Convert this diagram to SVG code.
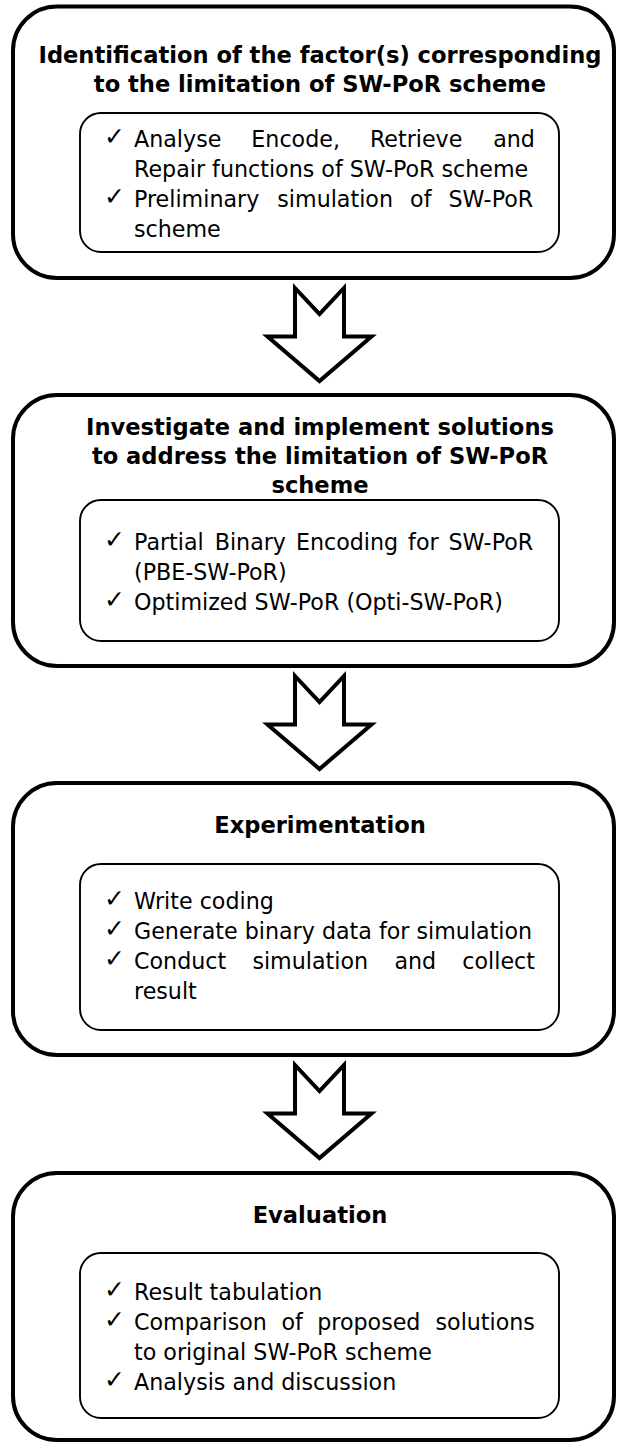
<svg xmlns="http://www.w3.org/2000/svg" width="617" height="1442" viewBox="0 0 617 1442">
  <style>
    .outer { fill: #ffffff; stroke: #000000; stroke-width: 4; }
    .inner { fill: #ffffff; stroke: #000000; stroke-width: 1.9; }
    .title { font-family: "DejaVu Sans", Verdana, sans-serif; font-weight: bold; font-size: 22.6px; fill: #000000; text-anchor: middle; }
    .body { font-family: "DejaVu Sans", Verdana, sans-serif; font-size: 22.2px; fill: #000000; }
    .tick { font-family: "DejaVu Sans", sans-serif; font-size: 25px; fill: #000000; }
    .arrow { fill: #ffffff; stroke: #000000; stroke-width: 4; stroke-linejoin: miter; stroke-miterlimit: 10; }
  </style>
  <defs>
    <path id="down-arrow" d="M 295 288 L 319.5 314 L 344 288 L 344 336.5 L 371.5 336.5 L 319.5 381 L 267.5 336.5 L 295 336.5 Z"/>
  </defs>

  <rect width="617" height="1442" fill="#ffffff"/>

  <!-- Step 1 -->
  <g id="step-identification">
    <rect class="outer" x="13" y="6.5" width="601" height="271.5" rx="44" ry="44"/>
    <text class="title" x="320" y="63">Identification of the factor(s) corresponding</text>
    <text class="title" x="320" y="92">to the limitation of SW-PoR scheme</text>
    <rect class="inner" x="80" y="113" width="479" height="139" rx="21" ry="21"/>
    <text class="tick" x="104" y="145">✓</text>
    <text class="body" y="147"><tspan x="134">Analyse</tspan><tspan x="251.3">Encode,</tspan><tspan x="369.9">Retrieve</tspan><tspan x="493.2">and</tspan></text>
    <text class="body" x="134" y="177">Repair functions of SW-PoR scheme</text>
    <text class="tick" x="104" y="205">✓</text>
    <text class="body" y="207"><tspan x="134">Preliminary</tspan><tspan x="277.3">simulation</tspan><tspan x="410.1">of</tspan><tspan x="448.5">SW-PoR</tspan></text>
    <text class="body" x="134" y="237">scheme</text>
  </g>

  <!-- Step 2 -->
  <g id="step-solutions">
    <rect class="outer" x="13" y="395" width="601" height="271" rx="44" ry="44"/>
    <text class="title" x="320" y="435">Investigate and implement solutions</text>
    <text class="title" x="320" y="464">to address the limitation of SW-PoR</text>
    <text class="title" x="320" y="493">scheme</text>
    <rect class="inner" x="80" y="500" width="479" height="141" rx="21" ry="21"/>
    <text class="tick" x="104" y="548">✓</text>
    <text class="body" y="550"><tspan x="134">Partial</tspan><tspan x="214.7">Binary</tspan><tspan x="295.9">Encoding</tspan><tspan x="408.1">for</tspan><tspan x="448.5">SW-PoR</tspan></text>
    <text class="body" x="134" y="580">(PBE-SW-PoR)</text>
    <text class="tick" x="104" y="608">✓</text>
    <text class="body" x="134" y="610">Optimized SW-PoR (Opti-SW-PoR)</text>
  </g>

  <!-- Step 3 -->
  <g id="step-experimentation">
    <rect class="outer" x="13" y="783" width="601" height="272" rx="44" ry="44"/>
    <text class="title" x="320" y="833">Experimentation</text>
    <rect class="inner" x="80" y="864" width="479" height="166" rx="21" ry="21"/>
    <text class="tick" x="104" y="907">✓</text>
    <text class="body" x="134" y="909">Write coding</text>
    <text class="tick" x="104" y="937">✓</text>
    <text class="body" x="134" y="939">Generate binary data for simulation</text>
    <text class="tick" x="104" y="967">✓</text>
    <text class="body" y="969"><tspan x="134">Conduct</tspan><tspan x="252.4">simulation</tspan><tspan x="394.4">and</tspan><tspan x="462.3">collect</tspan></text>
    <text class="body" x="134" y="999">result</text>
  </g>

  <!-- Step 4 -->
  <g id="step-evaluation">
    <rect class="outer" x="13" y="1173" width="601" height="267" rx="44" ry="44"/>
    <text class="title" x="320" y="1223">Evaluation</text>
    <rect class="inner" x="80" y="1253" width="479" height="165" rx="21" ry="21"/>
    <text class="tick" x="104" y="1298">✓</text>
    <text class="body" x="134" y="1300">Result tabulation</text>
    <text class="tick" x="104" y="1328">✓</text>
    <text class="body" y="1330"><tspan x="134">Comparison</tspan><tspan x="281.4">of</tspan><tspan x="317.2">proposed</tspan><tspan x="435.5">solutions</tspan></text>
    <text class="body" x="134" y="1360">to original SW-PoR scheme</text>
    <text class="tick" x="104" y="1388">✓</text>
    <text class="body" x="134" y="1390">Analysis and discussion</text>
  </g>

  <!-- Block arrows between the steps -->
  <g id="connectors">
    <use href="#down-arrow" class="arrow"/>
    <use href="#down-arrow" class="arrow" transform="translate(0 388)"/>
    <use href="#down-arrow" class="arrow" transform="translate(0 777)"/>
  </g>
</svg>
